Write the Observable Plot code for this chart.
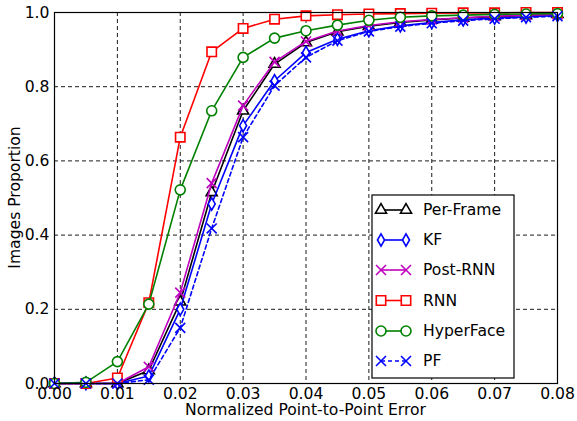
<!DOCTYPE html>
<html>
<head>
<meta charset="utf-8">
<script src="https://cdn.jsdelivr.net/npm/d3@7"></script>
<script src="https://cdn.jsdelivr.net/npm/@observablehq/plot@0.6"></script>
<style>
  html, body { margin: 0; padding: 0; background: #fff; }
  svg { font-family: "DejaVu Sans", sans-serif; }
</style>
</head>
<body>
<div id="chart"></div>
<script>
const xs = [0, 0.005, 0.01, 0.015, 0.02, 0.025, 0.03, 0.035, 0.04, 0.045, 0.05, 0.055, 0.06, 0.065, 0.07, 0.075, 0.08];
const perFrame  = [0, 0, 0, 0.035, 0.22, 0.515, 0.735, 0.861, 0.919, 0.948, 0.963, 0.973, 0.980, 0.985, 0.989, 0.992, 0.995];
const kf        = [0, 0, 0, 0.020, 0.200, 0.484, 0.695, 0.816, 0.892, 0.928, 0.951, 0.964, 0.973, 0.980, 0.985, 0.988, 0.992];
const postRnn   = [0, 0, 0, 0.045, 0.245, 0.540, 0.749, 0.867, 0.922, 0.950, 0.965, 0.975, 0.981, 0.986, 0.990, 0.993, 0.995];
const rnn       = [0, 0, 0.015, 0.218, 0.664, 0.894, 0.957, 0.982, 0.991, 0.994, 0.996, 0.997, 0.998, 0.999, 0.999, 1.0, 1.0];
const hyperFace = [0, 0.003, 0.059, 0.214, 0.522, 0.735, 0.879, 0.931, 0.951, 0.966, 0.979, 0.987, 0.991, 0.993, 0.995, 0.996, 0.997];
const pf        = [0, 0, 0, 0.010, 0.150, 0.418, 0.664, 0.803, 0.879, 0.924, 0.949, 0.962, 0.971, 0.978, 0.983, 0.987, 0.990];

const xTicks = [0, 0.01, 0.02, 0.03, 0.04, 0.05, 0.06, 0.07, 0.08];
const yTicks = [0, 0.2, 0.4, 0.6, 0.8, 1.0];

const series = [
  {name: "Per-Frame", values: perFrame,  color: "#000000", symbol: "triangle", dash: null},
  {name: "KF",        values: kf,        color: "#0000ff", symbol: "diamond",  dash: null},
  {name: "Post-RNN",  values: postRnn,   color: "#bf00bf", symbol: "times",    dash: null},
  {name: "RNN",       values: rnn,       color: "#ff0000", symbol: "square",   dash: null},
  {name: "HyperFace", values: hyperFace, color: "#008000", symbol: "circle",   dash: null},
  {name: "PF",        values: pf,        color: "#0000ff", symbol: "times",    dash: "4,3"}
];
const symR = {triangle: 4.1, diamond: 3.7, times: 4.6, square: 5.3, circle: 5};
const FS = 15.6;

const marks = [
  Plot.ruleX(xTicks, {stroke: "#000", strokeWidth: 0.9, strokeDasharray: "4,3"}),
  Plot.ruleY(yTicks, {stroke: "#000", strokeWidth: 0.9, strokeDasharray: "4,3"})
];
for (const s of series) {
  const data = xs.map((x, i) => ({x, y: s.values[i]}));
  marks.push(Plot.line(data, {x: "x", y: "y", stroke: s.color, strokeWidth: 1.6, strokeDasharray: s.dash}));
  const filled = s.symbol !== "times";
  marks.push(Plot.dot(data, {x: "x", y: "y", symbol: () => s.symbol, r: symR[s.symbol],
    stroke: s.color, strokeWidth: 1.6, fill: filled ? "white" : "none"}));
}
marks.push(Plot.frame({stroke: "#000", strokeWidth: 1.2}));
marks.push(Plot.axisX(xTicks, {tickSize: 0, tickPadding: 4, tickFormat: d3.format(".2f"), fontSize: FS, label: null}));
marks.push(Plot.axisY(yTicks, {tickSize: 0, tickPadding: 5, tickFormat: d3.format(".1f"), fontSize: FS, label: null}));

const chart = Plot.plot({
  width: 577, height: 421,
  marginLeft: 54, marginRight: 20, marginTop: 12, marginBottom: 38,
  x: {domain: [0, 0.08]},
  y: {domain: [0, 1]},
  style: {fontFamily: "DejaVu Sans, sans-serif", fontSize: FS + "px", color: "#000", background: "#fff"},
  symbol: {type: "identity"},
  marks
});
document.getElementById("chart").appendChild(chart);

// Axis labels and legend
const svg = d3.select(chart);
svg.append("text").attr("x", 305.5).attr("y", 415).attr("text-anchor", "middle")
  .attr("font-size", FS).attr("fill", "#000").text("Normalized Point-to-Point Error");
svg.append("text").attr("transform", "translate(20,197.5) rotate(-90)").attr("text-anchor", "middle")
  .attr("font-size", FS).attr("fill", "#000").text("Images Proportion");

const lg = svg.append("g");
lg.append("rect").attr("x", 372).attr("y", 195).attr("width", 142).attr("height", 183)
  .attr("fill", "white").attr("stroke", "#000").attr("stroke-width", 1.2);
const legendY = [210, 240, 270, 300.5, 331, 361];
const symMap = {triangle: d3.symbolTriangle, diamond: d3.symbolDiamond, times: d3.symbolTimes, square: d3.symbolSquare, circle: d3.symbolCircle};
series.forEach((s, i) => {
  const y = legendY[i];
  lg.append("line").attr("x1", 381).attr("x2", 406).attr("y1", y).attr("y2", y)
    .attr("stroke", s.color).attr("stroke-width", 1.6).attr("stroke-dasharray", s.dash);
  const r = symR[s.symbol];
  const path = d3.symbol(symMap[s.symbol], Math.PI * r * r)();
  [381, 406].forEach(x => {
    lg.append("path").attr("d", path).attr("transform", `translate(${x},${y})`)
      .attr("stroke", s.color).attr("stroke-width", 1.6).attr("fill", s.symbol === "times" ? "none" : "white");
  });
  lg.append("text").attr("x", 423).attr("y", y).attr("dy", "0.35em").attr("font-size", FS)
    .attr("text-anchor", "start").attr("fill", "#000").text(s.name);
});
</script>
</body>
</html>
